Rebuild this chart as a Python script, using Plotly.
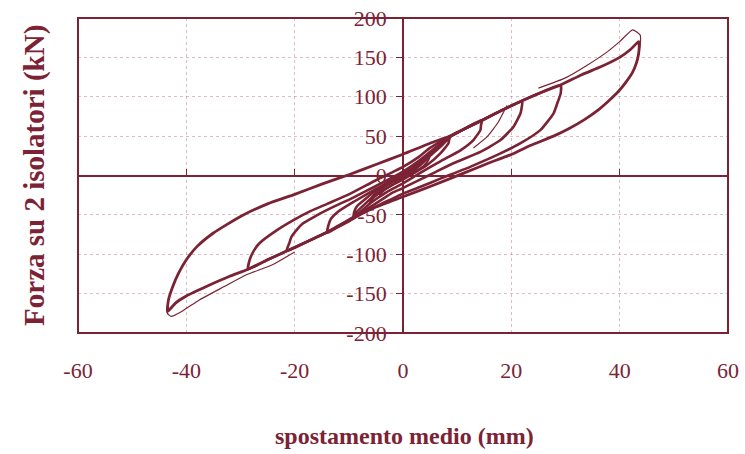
import plotly.graph_objects as go

# ---------------- data ----------------
# Largest cycle (about +/-43.5 mm)
L1_x = [43.5, 43.6, 43.5, 43.1, 42.3, 41.2, 39.8, 38, 36, 33.5, 30.5, 27.8, 23.5, 20.1, 15.5, 11.2, 5, 0, -5, -8,
        -10, -14, -18, -21.5, -25, -28.6, -32, -36, -40, -42, -43.5,
        -43.3, -42.5, -41.5, -40, -38, -35, -30, -25, -20, -15, -10, -5, 0, 5, 8.7, 11, 14.6, 18, 22, 25, 29.1,
        33, 36.5, 40, 42, 43.5]
L1_y = [170, 165, 155, 143, 130, 119, 107, 95, 83, 71, 59, 50, 38, 27, 15, 3, -14, -27, -40, -50,
        -58, -72, -85, -96, -107, -119, -128, -140, -153, -162, -173,
        -158, -141, -125, -107, -90, -73, -52, -36, -24, -11, 1, 14, 27, 41, 50, 58, 70, 82, 95, 104, 115,
        128, 138, 150, 160, 170]

# First (thin) excursion of the largest cycle, top and bottom
T1_x = [25, 30, 34, 37.7, 40, 42.4, 43.8, 43.8, 43.4]
T1_y = [111, 124, 140, 157, 170, 185, 178, 166, 150]
B1_x = [-20, -24, -28.9, -33, -37.6, -40.7, -42.8, -43.5, -43.3]
B1_y = [-97, -113, -126, -141, -158, -172, -179, -175, -165]

# Cycle about +/-29 mm
L2_x = [29.1, 29.1, 28.5, 27.8, 25.4, 21.7, 18, 12.4, 6.9, 3, 0, -4, -7, -10, -14, -18, -21.5, -25, -28.6,
        -28.3, -27.5, -26.5, -23.4, -20.3, -17, -14, -10, -5, 0, 3, 5, 8.7, 11, 14.6, 18, 22, 25, 29.1]
L2_y = [115, 104, 92, 79, 58, 41, 28, 11, -4, -15, -23, -36, -46, -57, -72, -85, -96, -107, -119,
        -107, -95, -86, -70, -57, -45, -36, -24, -6, 11, 24, 35, 50, 58, 70, 82, 95, 104, 115]

# Cycle about +22 / -21.5 mm
L3_x = [22, 21.9, 21.7, 20.4, 18, 14.3, 9.3, 5, 2, 0, -2, -4, -7, -9.2, -12, -14, -18, -21.5,
        -21, -20.6, -19.5, -18.5, -16, -14.1, -9.2, -4.9, 0, 3, 5, 8.7, 11, 14.6, 18, 22]
L3_y = [94, 86, 79, 62, 45, 30, 15.5, 1, -9, -16, -22, -31, -44, -53, -64, -72, -85, -96,
        -86, -78, -68, -61, -51, -44, -28, -13, 5, 19, 30, 50, 58, 70, 82, 94]

# Cycle about +14.6 / -14 mm
L4_x = [14.6, 14.4, 14.3, 13, 10.6, 6.9, 3.1, 0, -3, -6, -9.2, -12, -14,
        -13.8, -13.3, -12, -9, -5, 0, 3, 5, 7, 8.7, 11, 14.6]
L4_y = [70.5, 64, 58, 45, 32, 18, 3, -10, -21, -35, -54, -65, -73,
        -64, -55, -46, -33, -17, 2, 16, 27, 38, 49, 58, 70.5]

# Cycle about +8.7 / -9.2 mm
L5_x = [8.7, 8.5, 8.4, 6.9, 4.4, 2, 0, -2.5, -5, -7, -8.5, -9.2,
        -9, -8.5, -7, -5, -2, 0, 3, 5, 7, 8.7]
L5_y = [49, 45, 41, 28, 13, 3, -5, -14, -24, -36, -46, -55,
        -46, -39, -30, -19, -7, -1, 12, 25, 37, 49]

# Small cycles near the origin
L6_x = [5, 4.7, 3.8, 2, 0, -2, -4, -5.5, -6.1, -5.9, -5, -3, -1, 1, 3, 4.2, 5]
L6_y = [27, 20, 12, 4, -4, -12, -21, -29, -36, -29, -22, -12, -4, 4, 14, 21, 27]
L7_x = [3.1, 2.9, 2, 0, -2, -3.5, -4.3, -4.1, -3, -1, 1, 2.3, 3.1]
L7_y = [17, 12, 6, -3, -12, -19, -25, -19, -13, -5, 4, 11, 17]

# Thin extra curve near the 22 mm cycle
T3_x = [19.2, 18.9, 17.6, 15.5, 13]
T3_y = [89, 85, 68, 49, 35]

x_ticks = [-60, -40, -20, 0, 20, 40, 60]
x_ticktext = ["-60", "-40", "-20", "0", "20", "40", "60"]
y_ticks = [-200, -150, -100, -50, 0, 50, 100, 150, 200]
y_ticktext = ["-200", "-150", "-100", "-50", "0", "50", "100", "150", "200"]

x_title = "spostamento medio (mm)"
y_title = "Forza su 2 isolatori (kN)"

# ---------------- styling ----------------
C = "#7b2335"
GRID = "rgba(170,90,110,0.4)"
FONT = "Liberation Serif"

fig = go.Figure()

thick = [(L1_x, L1_y, 2.8), (L2_x, L2_y, 2.6), (L3_x, L3_y, 2.6), (L4_x, L4_y, 2.6),
         (L5_x, L5_y, 2.6), (L6_x, L6_y, 2.0), (L7_x, L7_y, 1.8)]
for xs, ys, w in thick:
    fig.add_trace(go.Scatter(x=xs, y=ys, mode="lines",
                             line=dict(color=C, width=w, shape="spline", smoothing=0.5),
                             showlegend=False, hoverinfo="skip"))
for xs, ys in [(T1_x, T1_y), (B1_x, B1_y), (T3_x, T3_y)]:
    fig.add_trace(go.Scatter(x=xs, y=ys, mode="lines",
                             line=dict(color=C, width=1.2, shape="spline", smoothing=0.5),
                             showlegend=False, hoverinfo="skip"))

# invisible trace to realise the secondary (zero-line) x axis
fig.add_trace(go.Scatter(x=[], y=[], xaxis="x2", showlegend=False, hoverinfo="skip"))

fig.update_layout(
    template="none",
    width=745, height=454,
    margin=dict(l=78, r=17, t=18, b=121),
    paper_bgcolor="white", plot_bgcolor="white",
    font=dict(family=FONT, color=C, size=22),
    xaxis=dict(range=[-60, 60], tickvals=x_ticks, ticktext=x_ticktext, automargin=False,
               showgrid=True, gridcolor=GRID, griddash="dot", gridwidth=1,
               zeroline=False, showline=False, ticks="",
               ticklabelstandoff=22,
               tickfont=dict(family=FONT, size=22, color=C)),
    xaxis2=dict(range=[-60, 60], overlaying="x", anchor="free", position=0.5, side="top",
                automargin=False,
                tickvals=x_ticks, showticklabels=False, showgrid=False, zeroline=False,
                showline=True, linecolor=C, linewidth=1.8,
                ticks="outside", ticklen=6, tickcolor=C, tickwidth=1.3),
    yaxis=dict(range=[-200, 200], tickvals=y_ticks, ticktext=y_ticktext, automargin=False,
               anchor="free", position=0.5,
               showgrid=True, gridcolor=GRID, griddash="dot", gridwidth=1,
               zeroline=False, showline=True, linecolor=C, linewidth=1.8,
               ticks="outside", ticklen=6, tickcolor=C, tickwidth=1.3,
               ticklabelstandoff=5,
               tickfont=dict(family=FONT, size=22, color=C)),
    shapes=[dict(type="rect", xref="paper", yref="paper", x0=0, x1=1, y0=0, y1=1,
                 line=dict(color=C, width=2), layer="above")],
    annotations=[
        dict(text="<b>%s</b>" % x_title, xref="paper", yref="paper", x=0.502, y=-0.327,
             xanchor="center", yanchor="middle", showarrow=False,
             font=dict(family=FONT, size=24, color=C)),
        dict(text="<b>%s</b>" % y_title, xref="paper", yref="paper", x=-0.067, y=0.5,
             xanchor="center", yanchor="middle", showarrow=False, textangle=-90,
             font=dict(family=FONT, size=29, color=C)),
    ],
)

fig.write_html("out.html")
